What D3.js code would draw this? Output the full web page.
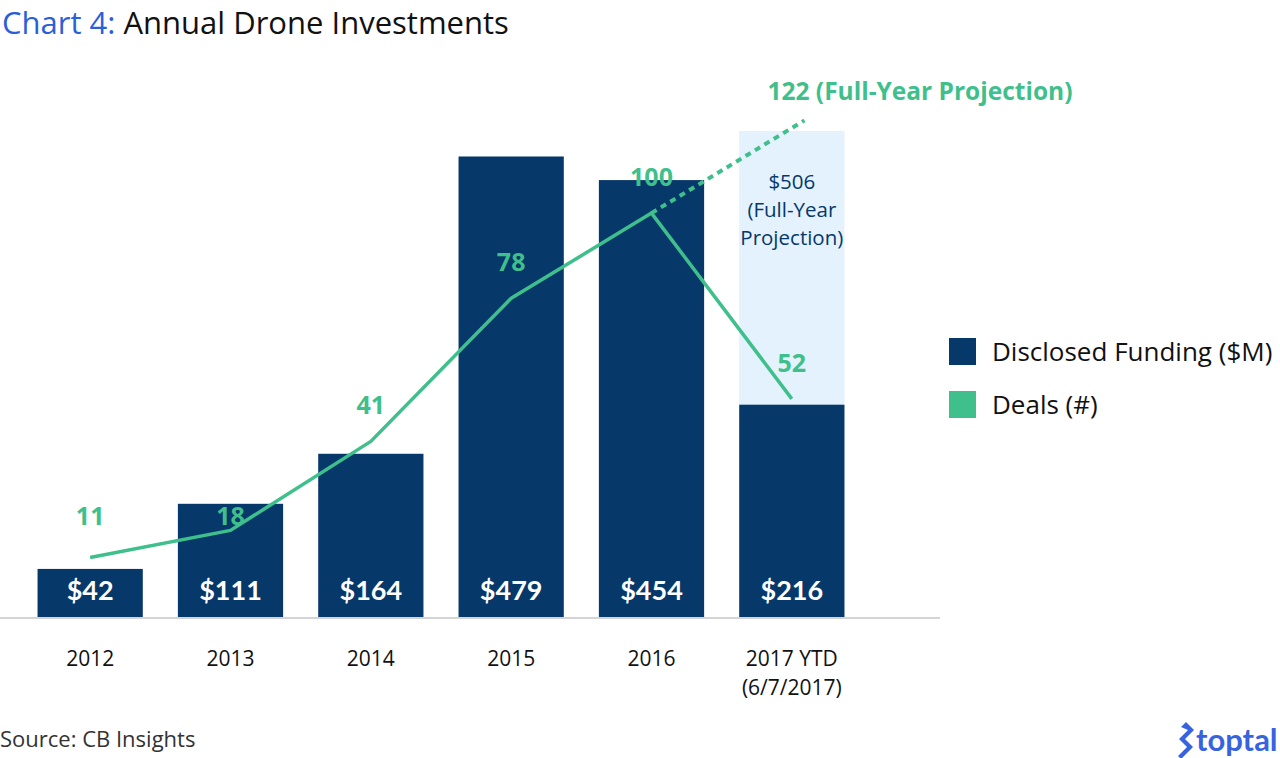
<!doctype html>
<html>
<head>
<meta charset="utf-8">
<script src="https://cdn.jsdelivr.net/npm/d3@7"></script>
<style>
  body { margin: 0; background: #fff; }
  svg { display: block; font-family: "Open Sans", Lato, sans-serif; }
  .cond { font-family: Lato, sans-serif; }
</style>
</head>
<body>
<svg width="1280" height="758"></svg>
<script>
// chart data
var years = ["2012", "2013", "2014", "2015", "2016", "2017"];
var yearLabels = [["2012"], ["2013"], ["2014"], ["2015"], ["2016"], ["2017 YTD", "(6/7/2017)"]];
var funding = [42, 111, 164, 479, 454, 216];
var deals = [11, 18, 41, 78, 100, 52];
var fundingProjection = 506;
var dealsProjection = 122;

var navy = "#07386a", green = "#3fbf8b", lightBlue = "#e3f2fd";

var svg = d3.select("svg");

var x = d3.scaleBand().domain(years).range([20, 862]).paddingInner(0.25).paddingOuter(0.125);
var yBar = d3.scaleLinear().domain([-10, fundingProjection]).range([618, 131]);
var yDeals = d3.scaleLinear().domain([0, dealsProjection]).range([600, 128]);

// title
var title = svg.append("text").attr("x", 2).attr("y", 34).style("font-size", "31px");
title.append("tspan").attr("fill", "#2b5fd9").text("Chart 4: ");
title.append("tspan").attr("fill", "#111").text("Annual Drone Investments");

// projected bar (light)
var last = years[years.length - 1];
svg.append("rect")
  .attr("x", x(last)).attr("width", x.bandwidth())
  .attr("y", yBar(fundingProjection)).attr("height", yBar(-10) - yBar(fundingProjection))
  .attr("fill", lightBlue);

svg.append("g").selectAll("text")
  .data(["$" + fundingProjection, "(Full-Year", "Projection)"])
  .enter().append("text")
  .attr("x", x(last) + x.bandwidth() / 2)
  .attr("y", (d, i) => 189 + i * 28)
  .attr("text-anchor", "middle")
  .attr("fill", navy)
  .style("font-size", "20.5px")
  .text(d => d);

// bars
svg.append("g").selectAll("rect")
  .data(funding)
  .enter().append("rect")
  .attr("x", (d, i) => x(years[i]))
  .attr("width", x.bandwidth())
  .attr("y", d => yBar(d))
  .attr("height", d => yBar(-10) - yBar(d))
  .attr("fill", navy);

svg.append("g").selectAll("text")
  .data(funding)
  .enter().append("text")
  .attr("class", "cond")
  .attr("x", (d, i) => x(years[i]) + x.bandwidth() / 2)
  .attr("y", 600)
  .attr("text-anchor", "middle")
  .attr("fill", "#fff")
  .style("font-size", "27px").style("font-weight", "bold")
  .text(d => "$" + d);

// baseline
svg.append("line")
  .attr("x1", 0).attr("x2", 940)
  .attr("y1", yBar(-10)).attr("y2", yBar(-10))
  .attr("stroke", "#d4d4d4").attr("stroke-width", 2);

// x labels
yearLabels.forEach(function(lines, i) {
  svg.append("g").selectAll("text")
    .data(lines)
    .enter().append("text")
    .attr("x", x(years[i]) + x.bandwidth() / 2)
    .attr("y", (d, j) => 666 + j * 29)
    .attr("text-anchor", "middle")
    .attr("fill", "#111")
    .style("font-size", "21px")
    .text(d => d);
});

// deals line
var cx = d => x(d) + x.bandwidth() / 2;
var line = d3.line().x(d => cx(d[0])).y(d => yDeals(d[1]));
var pts = years.map((yr, i) => [yr, deals[i]]);

svg.append("path")
  .datum(pts)
  .attr("d", line)
  .attr("fill", "none")
  .attr("stroke", green)
  .attr("stroke-width", 3.5)
  .attr("stroke-linejoin", "round");

// projection, dotted, a little past the bar centre
var p0 = [cx(years[4]), yDeals(deals[4])];
var p1 = [cx(last), yDeals(dealsProjection)];
var ext = 1.09;
svg.append("line")
  .attr("x1", p0[0]).attr("y1", p0[1])
  .attr("x2", p0[0] + (p1[0] - p0[0]) * ext).attr("y2", p0[1] + (p1[1] - p0[1]) * ext)
  .attr("stroke", green)
  .attr("stroke-width", 4)
  .attr("stroke-dasharray", "6,5");

svg.append("g").selectAll("text")
  .data(deals)
  .enter().append("text")
  .attr("x", (d, i) => cx(years[i]))
  .attr("y", (d, i) => i < 2 ? yDeals(deals[0]) - 32 : yDeals(d) - 27)
  .attr("text-anchor", "middle")
  .attr("fill", green)
  .style("font-size", "25px").style("font-weight", "bold")
  .text(d => d);

svg.append("text")
  .attr("x", 920).attr("y", 100)
  .attr("text-anchor", "middle")
  .attr("fill", green)
  .style("font-size", "24.5px").style("font-weight", "bold")
  .text(dealsProjection + " (Full-Year Projection)");

// legend
var legend = [["Disclosed Funding ($M)", navy], ["Deals (#)", green]];
var lg = svg.append("g").selectAll("g")
  .data(legend)
  .enter().append("g")
  .attr("transform", (d, i) => "translate(949," + (338 + i * 53) + ")");
lg.append("rect").attr("width", 27).attr("height", 27).attr("fill", d => d[1]);
lg.append("text")
  .attr("x", 43).attr("y", 23)
  .attr("fill", "#111")
  .style("font-size", "26px")
  .text(d => d[0]);

// source + logo
svg.append("text")
  .attr("x", 0).attr("y", 747)
  .attr("fill", "#333")
  .style("font-size", "22px")
  .text("Source: CB Insights");

var logo = svg.append("g").attr("fill", "#3863e0");
logo.append("path")
  .attr("d", "M1181,727 l5,-5 l8,8 l-9,9 l8,8 l-12,12 l-3,-3 l9,-9 l-8,-8 l9,-9 z");
logo.append("text")
  .attr("class", "cond")
  .attr("x", 1196).attr("y", 751)
  .style("font-size", "31px").style("font-weight", "bold")
  .text("toptal");
</script>
</body>
</html>
